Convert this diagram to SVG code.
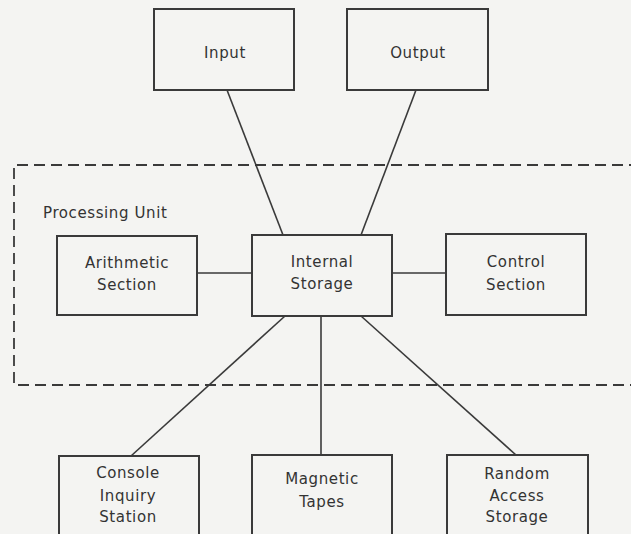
<svg xmlns="http://www.w3.org/2000/svg" width="631" height="534" viewBox="0 0 631 534">
<style>
.box{fill:none;stroke:#3a3a3a;stroke-width:2}
.ln{fill:none;stroke:#3a3a3a;stroke-width:1.6}
.dash{fill:none;stroke:#3a3a3a;stroke-width:1.8;stroke-dasharray:11 6}
text{font-family:"DejaVu Sans","Liberation Sans",sans-serif;font-size:15px;fill:#333;text-anchor:middle;letter-spacing:0.6px}
</style>
<rect x="0" y="0" width="631" height="534" fill="#f4f4f2"/>
<g id="processing-unit">
<path class="dash" d="M640 165 H14 V385 H640"/>
<text x="43" y="218" style="text-anchor:start">Processing Unit</text>
</g>
<g id="connectors">
<line class="ln" x1="227" y1="90" x2="283" y2="235"/>
<line class="ln" x1="416" y1="90" x2="361" y2="235"/>
<line class="ln" x1="197" y1="273" x2="252" y2="273"/>
<line class="ln" x1="392" y1="273" x2="446" y2="273"/>
<line class="ln" x1="285" y1="316" x2="131" y2="456"/>
<line class="ln" x1="321" y1="316" x2="321" y2="455"/>
<line class="ln" x1="361" y1="316" x2="516" y2="455"/>
</g>
<g id="input"><rect class="box" x="154" y="9" width="140" height="81"/><text x="225" y="58">Input</text></g>
<g id="output"><rect class="box" x="347" y="9" width="141" height="81"/><text x="418" y="58">Output</text></g>
<g id="arithmetic"><rect class="box" x="57" y="236" width="140" height="79"/><text x="127" y="268">Arithmetic</text><text x="127" y="290">Section</text></g>
<g id="internal-storage"><rect class="box" x="252" y="235" width="140" height="81"/><text x="322" y="267">Internal</text><text x="322" y="289">Storage</text></g>
<g id="control"><rect class="box" x="446" y="234" width="140" height="81"/><text x="516" y="267">Control</text><text x="516" y="290">Section</text></g>
<g id="console"><rect class="box" x="59" y="456" width="140" height="90"/><text x="128" y="478">Console</text><text x="128" y="501">Inquiry</text><text x="128" y="522">Station</text></g>
<g id="magnetic"><rect class="box" x="252" y="455" width="140" height="90"/><text x="322" y="484">Magnetic</text><text x="322" y="507">Tapes</text></g>
<g id="random"><rect class="box" x="447" y="455" width="141" height="90"/><text x="517" y="479">Random</text><text x="517" y="501">Access</text><text x="517" y="522">Storage</text></g>
</svg>
